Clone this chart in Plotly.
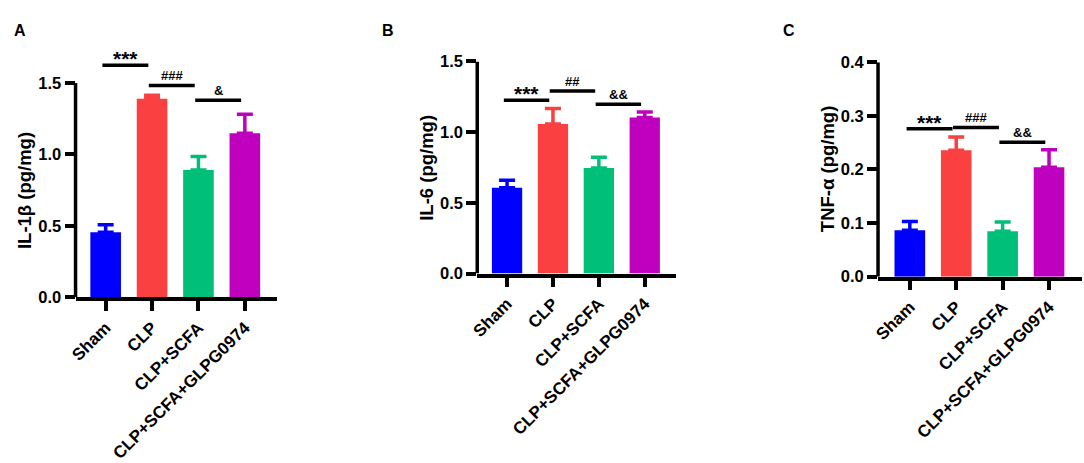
import plotly.graph_objects as go

W, H = 1084, 463

groups = ["Sham", "CLP", "CLP+SCFA", "CLP+SCFA+GLPG0974"]
colors = ["#0000FF", "#FA4040", "#00BF78", "#BF00BF"]

# panel A - IL-1b
il1b_mean = [0.456, 1.389, 0.891, 1.149]
il1b_sem = [0.052, 0.025, 0.095, 0.132]
# panel B - IL-6
il6_mean = [0.606, 1.058, 0.746, 1.103]
il6_sem = [0.054, 0.11, 0.076, 0.04]
# panel C - TNF-a
tnf_mean = [0.0866, 0.236, 0.0848, 0.2044]
tnf_sem = [0.0162, 0.0245, 0.0172, 0.0325]

yticks_ab = [0.0, 0.5, 1.0, 1.5]
yticks_c = [0.0, 0.1, 0.2, 0.3, 0.4]

# significance brackets: (from group, to group, height, label)
sig_a = [(0, 1, 1.625, "***"), (1, 2, 1.483, "###"), (2, 3, 1.38, "&")]
sig_b = [(0, 1, 1.226, "***"), (1, 2, 1.292, "##"), (2, 3, 1.197, "&&")]
sig_c = [(0, 1, 0.276, "***"), (1, 2, 0.2786, "###"), (2, 3, 0.251, "&&")]

FONT = "Arial, Liberation Sans, sans-serif"
LW = 3.5


def px(x):
    return x / W


def py(y):
    return 1 - y / H


# pixel layout of each panel: y-axis x, right end, first tick x, tick spacing,
# pixel of y=0, pixels per unit, top of range, letter x, title x
panels = [
    dict(letter="A", title="IL-1β (pg/mg)", mean=il1b_mean, sem=il1b_sem, ticks=yticks_ab, sig=sig_a,
         axis=69, right=272, t0=99.3, sp=46.7, y0=302.7, ppu=150, top=1.8, lx=13, tx=17),
    dict(letter="B", title="IL-6 (pg/mg)", mean=il6_mean, sem=il6_sem, ticks=yticks_ab, sig=sig_b,
         axis=473.3, right=673, t0=503.3, sp=46.2, y0=277.7, ppu=148.4, top=1.5, lx=383, tx=422),
    dict(letter="C", title="TNF-α (pg/mg)", mean=tnf_mean, sem=tnf_sem, ticks=yticks_c, sig=sig_c,
         axis=876.7, right=1081.5, t0=908.7, sp=46.7, y0=281, ppu=562.5, top=0.4, lx=787, tx=826),
]

fig = go.Figure()
annotations = []
shapes = []

for k, p in enumerate(panels):
    n = "" if k == 0 else str(k + 1)
    xa, ya = "x" + n, "y" + n
    for i, g in enumerate(groups):
        fig.add_trace(go.Bar(
            x=[g], y=[p["mean"][i]], width=0.66, xaxis=xa, yaxis=ya,
            marker=dict(color=colors[i], line=dict(width=0)),
            error_y=dict(type="data", symmetric=False, array=[p["sem"][i]], arrayminus=[0],
                         color=colors[i], thickness=LW, width=8),
            showlegend=False, hoverinfo="skip",
        ))

    xr = [(p["axis"] - p["t0"]) / p["sp"], (p["right"] - p["t0"]) / p["sp"]]
    ymax = p["ticks"][-1]
    ytop_px = p["y0"] - p["top"] * p["ppu"]
    fig.layout["xaxis" + n] = dict(
        domain=[px(p["axis"]), px(p["right"])], anchor=ya, type="category",
        categoryorder="array", categoryarray=groups, range=xr,
        showline=True, linewidth=LW, linecolor="black", ticks="outside", ticklen=10,
        tickwidth=LW, tickcolor="black", tickangle=-45, showgrid=False, zeroline=False,
        tickfont=dict(family=FONT, size=17, color="black", weight="bold"),
    )
    fig.layout["yaxis" + n] = dict(
        domain=[py(p["y0"]), py(ytop_px)], anchor=xa, range=[0, p["top"]],
        tickvals=p["ticks"], tickformat=".1f", showline=False, ticks="outside", ticklen=10,
        tickwidth=LW, tickcolor="black", showgrid=False, zeroline=False,
        tickfont=dict(family=FONT, size=16.5, color="black", weight="bold"),
    )
    # y axis line only up to the last tick
    shapes.append(dict(type="line", xref="paper", yref=ya, x0=px(p["axis"]), x1=px(p["axis"]),
                       y0=0, y1=ymax, line=dict(color="black", width=LW)))

    for a, b, h, lab in p["sig"]:
        shapes.append(dict(type="line", xref=xa, yref=ya, x0=a - 0.07, x1=b - 0.08, y0=h, y1=h,
                           line=dict(color="black", width=LW)))
        big = lab.startswith("*")
        annotations.append(dict(xref=xa, yref=ya, x=(a + b) / 2 - 0.075, y=h, text=lab,
                                showarrow=False, yanchor="bottom", yshift=-7 if big else 0,
                                font=dict(family=FONT, size=21 if big else 13, color="black", weight="bold")))

    annotations.append(dict(xref="paper", yref="paper", x=px(p["lx"]), y=py(23), text=p["letter"],
                            showarrow=False, xanchor="center", yanchor="middle",
                            font=dict(family=FONT, size=16, color="black", weight="bold")))
    annotations.append(dict(xref="paper", yref="paper", x=px(p["tx"]), y=py(p["y0"] - ymax * p["ppu"] / 2),
                            text=p["title"], textangle=-90, showarrow=False,
                            xanchor="center", yanchor="middle",
                            font=dict(family=FONT, size=18.5, color="black", weight="bold")))

fig.update_layout(
    width=W, height=H, margin=dict(l=0, r=0, t=0, b=0),
    paper_bgcolor="white", plot_bgcolor="white", barmode="overlay",
    annotations=annotations, shapes=shapes,
)

fig.write_html("out.html", config={"displayModeBar": False},
               post_script="document.body.style.margin='0';document.body.style.overflow='hidden';")
